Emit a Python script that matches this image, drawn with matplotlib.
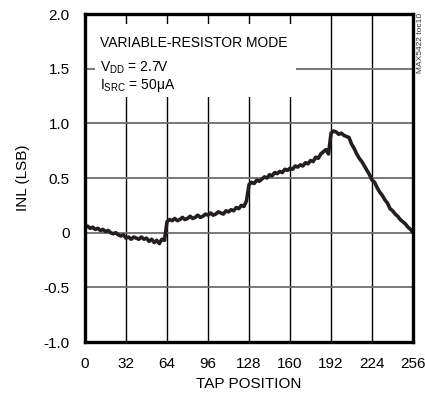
from matplotlib import pyplot as plt
from matplotlib.patches import Rectangle

plt.rcParams['font.family'] = ['Liberation Sans Narrow', 'Liberation Sans', 'DejaVu Sans']
plt.rcParams['mathtext.fontset'] = 'custom'
plt.rcParams['mathtext.rm'] = 'Liberation Sans'

my_fontsize = 11

# tap position (every 2nd tap) and INL
taps = list(range(0, 257, 2))
inl = [
    0.05, 0.06, 0.04, 0.05, 0.03, 0.04, 0.02, 0.03, 0.01, 0.02,
    0.00, -0.01, 0.00, -0.02, -0.03, -0.02, -0.05, -0.04, -0.06, -0.04,
    -0.05, -0.06, -0.04, -0.06, -0.05, -0.08, -0.06, -0.09, -0.07, -0.10,
    -0.06, -0.07,
    0.10, 0.12, 0.11, 0.13, 0.11, 0.12, 0.14, 0.12, 0.13, 0.15,
    0.13, 0.14, 0.16, 0.14, 0.15, 0.17, 0.16, 0.18, 0.16, 0.17,
    0.19, 0.18, 0.17, 0.20, 0.19, 0.21, 0.20, 0.23, 0.22, 0.25,
    0.24, 0.29,
    0.44, 0.46, 0.45, 0.48, 0.47, 0.49, 0.51, 0.50, 0.53, 0.52,
    0.55, 0.54, 0.56, 0.55, 0.58, 0.57, 0.59, 0.58, 0.61, 0.60,
    0.62, 0.61, 0.64, 0.63, 0.66, 0.65, 0.69, 0.68, 0.72, 0.74,
    0.76, 0.72,
    0.91, 0.93, 0.92, 0.90, 0.91, 0.89, 0.88, 0.87, 0.81, 0.77,
    0.72, 0.68, 0.65, 0.61, 0.57, 0.53, 0.48, 0.46, 0.41, 0.37,
    0.34, 0.30, 0.27, 0.22, 0.20, 0.17, 0.15, 0.12, 0.10, 0.08,
    0.05, 0.03, 0.00,
]

x_ticks = [0, 32, 64, 96, 128, 160, 192, 224, 256]
y_ticks = [-1.0, -0.5, 0, 0.5, 1.0, 1.5, 2.0]
y_ticklabels = ['-1.0', '-0.5', '0', '0.5', '1.0', '1.5', '2.0']

fig = plt.figure(figsize=(4.25, 4.0), dpi=100)
ax = fig.add_axes([0.2, 0.145, 0.772, 0.82])

ax.plot(taps, inl, color='#231f20', linewidth=2.6, zorder=3)

ax.set_xlim(0, 256)
ax.set_ylim(-1.0, 2.0)
ax.set_xticks(x_ticks)
ax.set_yticks(y_ticks)
ax.set_yticklabels(y_ticklabels)
ax.tick_params(length=0, labelsize=my_fontsize, pad=11)
ax.set_axisbelow(True)
ax.grid(axis='x', color='black', linewidth=1.0)
ax.grid(axis='y', color='#6d6d6d', linewidth=1.3)
for s in ax.spines.values():
    s.set_linewidth(2.4)
    s.set_zorder(4)

ax.set_xlabel('TAP POSITION', fontsize=my_fontsize, labelpad=4)
ax.set_ylabel('INL (LSB)', fontsize=my_fontsize, labelpad=10)

# white box behind the annotation hides the grid
ax.add_patch(Rectangle((0.03, 0.747), 0.613, 0.2225, transform=ax.transAxes,
                       facecolor='white', edgecolor='none', zorder=1.5))
box_fs = 10
ax.text(0.046, 0.899, 'VARIABLE-RESISTOR MODE', transform=ax.transAxes,
        fontsize=box_fs, va='baseline', zorder=5)
ax.text(0.046, 0.825, r'V$_{\mathrm{DD}}$ = 2.7V', transform=ax.transAxes,
        fontsize=box_fs, va='baseline', zorder=5)
ax.text(0.046, 0.772, r'I$_{\mathrm{SRC}}$ = 50μA', transform=ax.transAxes,
        fontsize=box_fs, va='baseline', zorder=5)

fig.text(0.99, 0.967, 'MAX5422 toc10', rotation=90, ha='center', va='top',
         fontsize=6, color='#333333')

plt.savefig('out.png', dpi=100)
